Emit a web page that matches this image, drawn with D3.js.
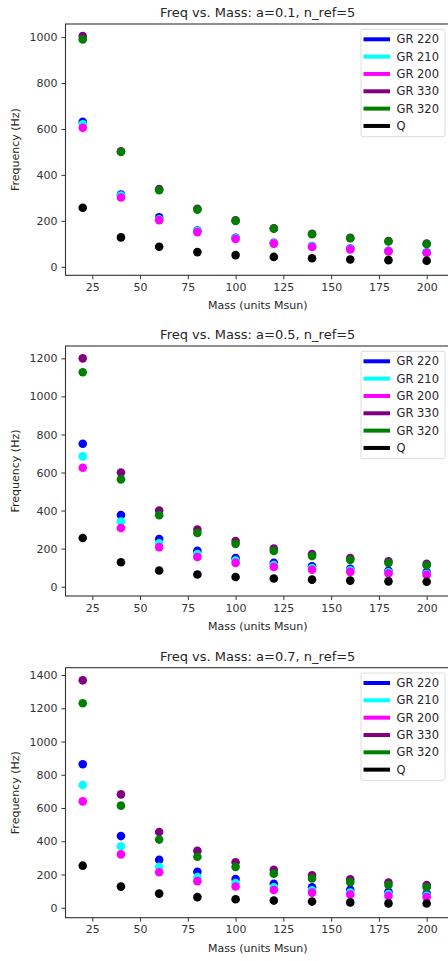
<!DOCTYPE html>
<meta charset="utf-8">
<style>
body { margin: 0; background: #fff; }
svg text { font-family: "DejaVu Sans", sans-serif; fill: #262626; }
.axis path, .axis line { stroke: #333; }
.axis text { font-size: 11px; fill: #333; }
.title { font-size: 13px; }
.label { font-size: 11px; }
.legend text { font-size: 11.5px; }
</style>
<body>
<script src="https://d3js.org/d3.v7.min.js"></script>
<script>

var mass = [20, 40, 60, 80, 100, 120, 140, 160, 180, 200];
var massTicks = [25, 50, 75, 100, 125, 150, 175, 200];

var seriesNames = ["GR 220", "GR 210", "GR 200", "GR 330", "GR 320", "Q"];
var seriesColors = ["#0000ff", "#00ffff", "#ff00ff", "#800080", "#008000", "#000000"];

// a = 0.1
var gr220_a01 = [631, 315, 215, 158, 126, 105, 90, 79, 70, 63];
var gr210_a01 = [620, 310, 207, 156, 124, 103, 89, 78, 69, 62];
var gr200_a01 = [605, 302, 203, 151, 121, 101, 86, 76, 67, 60];
var gr330_a01 = [1005, 503, 338, 253, 202, 168, 144, 126, 112, 101];
var gr320_a01 = [990, 500, 333, 249, 200, 166, 142, 124, 110, 99];
var q_a01 = [257, 128, 87, 64, 51, 43, 37, 32, 29, 26];

// a = 0.5
var gr220_a05 = [751, 377, 250, 188, 150, 125, 107, 94, 83, 75];
var gr210_a05 = [685, 342, 228, 171, 137, 114, 98, 86, 76, 68];
var gr200_a05 = [625, 308, 208, 156, 125, 104, 89, 78, 69, 62];
var gr330_a05 = [1200, 600, 400, 300, 240, 200, 171, 150, 133, 120];
var gr320_a05 = [1127, 564, 376, 282, 225, 188, 161, 141, 125, 113];
var q_a05 = [256, 128, 85, 64, 51, 43, 37, 32, 28, 26];

// a = 0.7
var gr220_a07 = [863, 431, 288, 216, 173, 144, 123, 108, 96, 86];
var gr210_a07 = [738, 369, 246, 185, 148, 123, 105, 92, 82, 74];
var gr200_a07 = [640, 321, 213, 160, 128, 107, 91, 80, 71, 64];
var gr330_a07 = [1368, 682, 456, 342, 274, 228, 195, 171, 152, 137];
var gr320_a07 = [1230, 614, 410, 307, 246, 205, 176, 154, 137, 123];
var q_a07 = [253, 127, 85, 64, 51, 43, 37, 32, 26, 25];

var yTicks01 = [0, 200, 400, 600, 800, 1000];
var yTicks05 = [0, 200, 400, 600, 800, 1000, 1200];
var yTicks07 = [0, 200, 400, 600, 800, 1000, 1200, 1400];

var panels = [
  {title: "Freq vs. Mass: a=0.1, n_ref=5", top: 24, bottom: 275.3,
   yDomain: [-37, 1057], yTicks: yTicks01,
   series: [gr220_a01, gr210_a01, gr200_a01, gr330_a01, gr320_a01, q_a01]},
  {title: "Freq vs. Mass: a=0.5, n_ref=5", top: 346, bottom: 596,
   yDomain: [-49, 1265], yTicks: yTicks05,
   series: [gr220_a05, gr210_a05, gr200_a05, gr330_a05, gr320_a05, q_a05]},
  {title: "Freq vs. Mass: a=0.7, n_ref=5", top: 667.7, bottom: 917.7,
   yDomain: [-60, 1444], yTicks: yTicks07,
   series: [gr220_a07, gr210_a07, gr200_a07, gr330_a07, gr320_a07, q_a07]}
];

var W = 448, H = 961;
var left = 65.5, right = 450;

var svg = d3.select("body").append("svg")
    .attr("width", W)
    .attr("height", H);

var x = d3.scaleLinear().domain([10.98, 212.2]).range([left, right]);

panels.forEach(function(p) {
  var y = d3.scaleLinear().domain(p.yDomain).range([p.bottom, p.top]);
  var g = svg.append("g");

  // frame
  g.append("rect")
    .attr("x", left)
    .attr("y", p.top)
    .attr("width", right - left)
    .attr("height", p.bottom - p.top)
    .style("fill", "none")
    .style("stroke", "#333")
    .style("stroke-width", 1.1);

  g.append("g")
    .attr("class", "axis")
    .attr("transform", "translate(0," + p.bottom + ")")
    .call(d3.axisBottom(x).tickValues(massTicks).tickSize(4).tickPadding(4).tickFormat(d3.format("d")))
    .call(function(a) { a.select(".domain").remove(); });

  g.append("g")
    .attr("class", "axis")
    .attr("transform", "translate(" + left + ",0)")
    .call(d3.axisLeft(y).tickValues(p.yTicks).tickSize(4).tickPadding(4).tickFormat(d3.format("d")))
    .call(function(a) { a.select(".domain").remove(); });

  // points, drawn series by series so later ones sit on top
  p.series.forEach(function(vals, i) {
    g.append("g").selectAll("circle")
      .data(vals)
      .enter().append("circle")
        .attr("cx", function(d, j) { return x(mass[j]); })
        .attr("cy", function(d) { return y(d); })
        .attr("r", 4.3)
        .style("fill", seriesColors[i]);
  });

  g.append("text")
    .attr("class", "title")
    .attr("x", (left + right) / 2)
    .attr("y", p.top - 7)
    .style("text-anchor", "middle")
    .text(p.title);

  g.append("text")
    .attr("class", "label")
    .attr("x", (left + right) / 2)
    .attr("y", p.bottom + 34)
    .style("text-anchor", "middle")
    .text("Mass (units Msun)");

  g.append("text")
    .attr("class", "label")
    .attr("transform", "translate(19," + ((p.top + p.bottom) / 2) + ") rotate(-90)")
    .style("text-anchor", "middle")
    .text("Frequency (Hz)");

  // legend
  var lg = g.append("g").attr("class", "legend");
  lg.append("rect")
    .attr("x", 361)
    .attr("y", p.top + 5.3)
    .attr("width", 84)
    .attr("height", 107.4)
    .attr("rx", 2)
    .style("fill", "#fff")
    .style("fill-opacity", 0.8)
    .style("stroke", "#ddd");
  seriesNames.forEach(function(name, i) {
    var ly = p.top + 15.3 + i * 17.33;
    lg.append("line")
      .attr("x1", 363.5).attr("x2", 390)
      .attr("y1", ly).attr("y2", ly)
      .style("stroke", seriesColors[i])
      .style("stroke-width", 4);
    lg.append("text")
      .attr("x", 396.5)
      .attr("y", ly + 4)
      .text(name);
  });
});

</script>
</body>
